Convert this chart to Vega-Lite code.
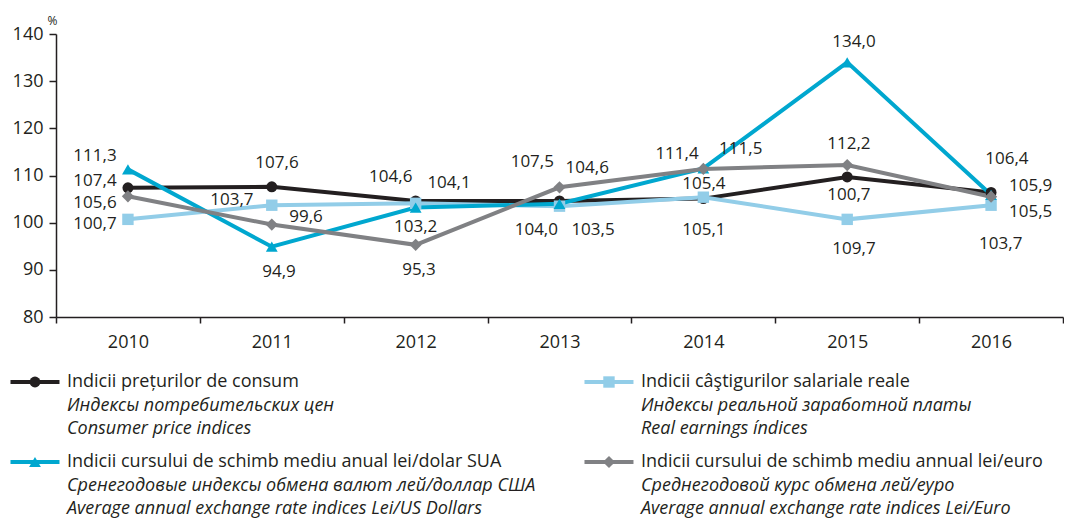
{
  "$schema": "https://vega.github.io/schema/vega-lite/v6.json",
  "padding": {"left": 10, "top": 14, "right": 0, "bottom": 0},
  "config": {"view": {"stroke": null}, "font": "Open Sans", "concat": {"spacing": 22}},
  "datasets": {
    "series": [
      {"year": 2010, "s": "cpi", "v": 107.4}, {"year": 2011, "s": "cpi", "v": 107.6}, {"year": 2012, "s": "cpi", "v": 104.6}, {"year": 2013, "s": "cpi", "v": 104.6}, {"year": 2014, "s": "cpi", "v": 105.1}, {"year": 2015, "s": "cpi", "v": 109.7}, {"year": 2016, "s": "cpi", "v": 106.4},
      {"year": 2010, "s": "wage", "v": 100.7}, {"year": 2011, "s": "wage", "v": 103.7}, {"year": 2012, "s": "wage", "v": 104.1}, {"year": 2013, "s": "wage", "v": 103.5}, {"year": 2014, "s": "wage", "v": 105.4}, {"year": 2015, "s": "wage", "v": 100.7}, {"year": 2016, "s": "wage", "v": 103.7},
      {"year": 2010, "s": "usd", "v": 111.3}, {"year": 2011, "s": "usd", "v": 94.9}, {"year": 2012, "s": "usd", "v": 103.2}, {"year": 2013, "s": "usd", "v": 104.0}, {"year": 2014, "s": "usd", "v": 111.5}, {"year": 2015, "s": "usd", "v": 134.0}, {"year": 2016, "s": "usd", "v": 105.9},
      {"year": 2010, "s": "eur", "v": 105.6}, {"year": 2011, "s": "eur", "v": 99.6}, {"year": 2012, "s": "eur", "v": 95.3}, {"year": 2013, "s": "eur", "v": 107.5}, {"year": 2014, "s": "eur", "v": 111.4}, {"year": 2015, "s": "eur", "v": 112.2}, {"year": 2016, "s": "eur", "v": 105.5}
    ],
    "labels": [
      {"lx": 2009.771, "ly": 114.2, "t": "111,3"}, {"lx": 2009.771, "ly": 108.9, "t": "107,4"}, {"lx": 2009.771, "ly": 104.1, "t": "105,6"}, {"lx": 2009.771, "ly": 99.7, "t": "100,7"},
      {"lx": 2011.036, "ly": 112.6, "t": "107,6"}, {"lx": 2010.723, "ly": 104.7, "t": "103,7"}, {"lx": 2011.238, "ly": 101.16, "t": "99,6"}, {"lx": 2011.05, "ly": 89.5, "t": "94,9"},
      {"lx": 2011.827, "ly": 109.6, "t": "104,6"}, {"lx": 2012.232, "ly": 108.36, "t": "104,1"}, {"lx": 2012.0, "ly": 99.04, "t": "103,2"}, {"lx": 2012.023, "ly": 89.87, "t": "95,3"},
      {"lx": 2012.811, "ly": 112.8, "t": "107,5"}, {"lx": 2013.193, "ly": 111.6, "t": "104,6"}, {"lx": 2012.839, "ly": 98.5, "t": "104,0"}, {"lx": 2013.233, "ly": 98.5, "t": "103,5"},
      {"lx": 2013.817, "ly": 114.6, "t": "111,4"}, {"lx": 2014.26, "ly": 115.65, "t": "111,5"}, {"lx": 2014.004, "ly": 108.2, "t": "105,4"}, {"lx": 2014.004, "ly": 98.35, "t": "105,1"},
      {"lx": 2015.047, "ly": 138.2, "t": "134,0"}, {"lx": 2015.012, "ly": 116.7, "t": "112,2"}, {"lx": 2015.012, "ly": 105.76, "t": "100,7"}, {"lx": 2015.047, "ly": 94.47, "t": "109,7"},
      {"lx": 2016.11, "ly": 113.5, "t": "106,4"}, {"lx": 2016.275, "ly": 107.7, "t": "105,9"}, {"lx": 2016.275, "ly": 102.2, "t": "105,5"}, {"lx": 2016.067, "ly": 95.5, "t": "103,7"}
    ],
    "legend": [
      {"s": "cpi", "col": 0, "row": 0, "l1": "Indicii prețurilor de consum", "l2": "Индексы потребительских цен", "l3": "Consumer price  indices"},
      {"s": "wage", "col": 1, "row": 0, "l1": "Indicii câştigurilor salariale reale", "l2": "Индексы реальной заработной платы", "l3": "Real earnings índices"},
      {"s": "usd", "col": 0, "row": 1, "l1": "Indicii cursului de schimb mediu anual lei/dolar SUA", "l2": "Сренегодовые индексы обмена валют лей/доллар США", "l3": "Average annual exchange rate indices Lei/US Dollars"},
      {"s": "eur", "col": 1, "row": 1, "l1": "Indicii cursului de schimb mediu annual lei/euro", "l2": "Среднегодовой курс обмена лей/еуро", "l3": "Average annual exchange rate indices Lei/Euro"}
    ]
  },
  "vconcat": [
    {
      "width": 1007,
      "height": 283,
      "layer": [
        {
          "data": {"name": "series"},
          "encoding": {
            "x": {"field": "year", "type": "ordinal", "scale": {"type": "band", "paddingInner": 0, "paddingOuter": 0},
              "axis": {"title": null, "labelAngle": 0, "tickBand": "extent", "domainColor": "#231f20", "domainWidth": 1.5, "tickColor": "#231f20", "tickWidth": 1.5, "tickSize": 6, "labelFontSize": 18, "labelColor": "#231f20", "labelPadding": 10, "grid": false}},
            "y": {"field": "v", "type": "quantitative", "scale": {"domain": [80, 140], "zero": false, "nice": false},
              "axis": {"values": [80, 90, 100, 110, 120, 130, 140], "title": "%", "titleAngle": 0, "titleFontSize": 12, "titleFontWeight": "normal", "titleColor": "#231f20", "titleX": -4, "titleY": -14, "titleAlign": "center", "titleBaseline": "middle", "domainColor": "#231f20", "domainWidth": 1.5, "tickColor": "#231f20", "tickWidth": 1.5, "tickSize": 7, "labelFontSize": 18, "labelColor": "#231f20", "labelPadding": 6, "grid": false}},
            "color": {"field": "s", "type": "nominal", "scale": {"domain": ["cpi", "wage", "usd", "eur"], "range": ["#231f20", "#92cde8", "#00a7cf", "#808184"]}, "legend": null}
          },
          "layer": [
            {"mark": {"type": "line", "strokeWidth": 4}},
            {
              "mark": {"type": "point", "filled": true, "opacity": 1},
              "encoding": {
                "shape": {"field": "s", "type": "nominal", "scale": {"domain": ["cpi", "wage", "usd", "eur"], "range": ["circle", "square", "triangle-up", "diamond"]}, "legend": null},
                "size": {"field": "s", "type": "nominal", "scale": {"domain": ["cpi", "wage", "usd", "eur"], "range": [120, 150, 130, 90]}, "legend": null}
              }
            }
          ]
        },
        {
          "data": {"name": "labels"},
          "mark": {"type": "text", "fontSize": 17, "color": "#231f20"},
          "encoding": {
            "x": {"field": "lx", "type": "quantitative", "scale": {"domain": [2009.5, 2016.5], "zero": false, "nice": false}, "axis": null},
            "y": {"field": "ly", "type": "quantitative"},
            "text": {"field": "t"}
          }
        }
      ],
      "resolve": {"scale": {"x": "independent"}}
    },
    {
      "width": 1007,
      "height": 80,
      "data": {"name": "legend"},
      "encoding": {
        "x": {"field": "col", "type": "quantitative", "scale": {"domain": [0.0366, 1.791], "zero": false, "nice": false}, "axis": null},
        "y": {"field": "row", "type": "quantitative", "scale": {"domain": [0, 1], "reverse": true, "zero": false, "nice": false}, "axis": null}
      },
      "layer": [
        {"mark": {"type": "tick", "orient": "horizontal", "size": 49, "thickness": 4, "opacity": 1},
          "encoding": {"color": {"field": "s", "type": "nominal", "scale": {"domain": ["cpi", "wage", "usd", "eur"], "range": ["#231f20", "#92cde8", "#00a7cf", "#808184"]}, "legend": null}}},
        {"mark": {"type": "point", "filled": true, "opacity": 1},
          "encoding": {
            "color": {"field": "s", "type": "nominal", "legend": null},
            "shape": {"field": "s", "type": "nominal", "scale": {"domain": ["cpi", "wage", "usd", "eur"], "range": ["circle", "square", "triangle-up", "diamond"]}, "legend": null},
            "size": {"field": "s", "type": "nominal", "scale": {"domain": ["cpi", "wage", "usd", "eur"], "range": [120, 150, 130, 90]}, "legend": null}
          }},
        {"mark": {"type": "text", "align": "left", "baseline": "middle", "dx": 32, "fontSize": 18, "color": "#231f20"}, "encoding": {"text": {"field": "l1"}}},
        {"mark": {"type": "text", "align": "left", "baseline": "middle", "dx": 32, "dy": 23.5, "fontSize": 18, "fontStyle": "italic", "color": "#231f20"}, "encoding": {"text": {"field": "l2"}}},
        {"mark": {"type": "text", "align": "left", "baseline": "middle", "dx": 32, "dy": 46.5, "fontSize": 18, "fontStyle": "italic", "color": "#231f20"}, "encoding": {"text": {"field": "l3"}}}
      ]
    }
  ]
}
